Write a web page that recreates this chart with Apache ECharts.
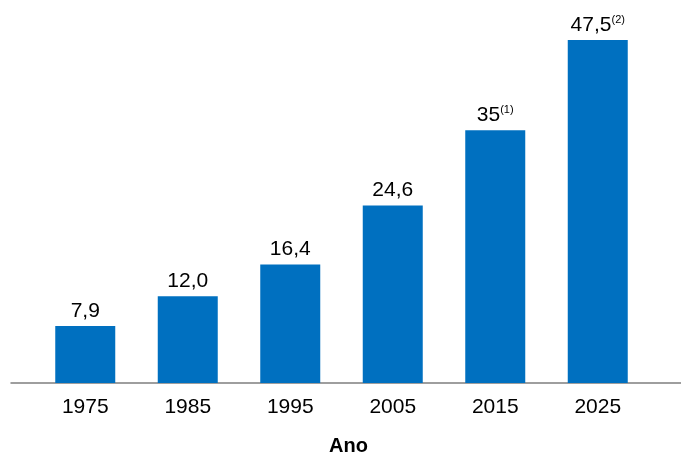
<!DOCTYPE html>
<html>
<head>
<meta charset="utf-8">
<script src="https://cdn.jsdelivr.net/npm/echarts@6/dist/echarts.min.js"></script>
<style>html,body{margin:0;padding:0;background:#fff;}#c{width:681px;height:454px;}</style>
</head>
<body>
<div id="c"></div>
<script>
var categories = ['1975', '1985', '1995', '2005', '2015', '2025'];
var values = [7.9, 12.0, 16.4, 24.6, 35, 47.5];
var valueLabels = ['7,9', '12,0', '16,4', '24,6', '35', '47,5'];
var notes = ['', '', '', '', '(1)', '(2)'];
var axisTitle = 'Ano';

var chart = echarts.init(document.getElementById('c'), null, {renderer: 'canvas'});
var font = 'Liberation Sans, Arial, Helvetica, sans-serif';
chart.setOption({
  animation: false,
  backgroundColor: '#ffffff',
  grid: [
    {left: 34, right: 32, top: 22, bottom: 71},
    {left: 11, right: 0, top: 22, bottom: 71}
  ],
  xAxis: [
    {
      type: 'category', gridIndex: 0, data: categories,
      axisLine: {show: false}, axisTick: {show: false},
      axisLabel: {color: '#000', fontSize: 21, fontFamily: font, margin: 14}
    },
    {
      type: 'category', gridIndex: 1, data: [''],
      axisLine: {show: true, lineStyle: {color: '#7f7f7f', width: 1.5}},
      axisTick: {show: false}, axisLabel: {show: false}
    }
  ],
  yAxis: [
    {type: 'value', gridIndex: 0, min: 0, max: 50, show: false, splitLine: {show: false}},
    {type: 'value', gridIndex: 1, min: 0, max: 50, show: false, splitLine: {show: false}}
  ],
  series: [{
    type: 'bar',
    xAxisIndex: 0, yAxisIndex: 0,
    data: values,
    barWidth: 60,
    itemStyle: {color: '#0070C0'},
    label: {
      show: true,
      position: 'top',
      distance: 4,
      formatter: function (p) {
        var n = notes[p.dataIndex];
        return '{v|' + valueLabels[p.dataIndex] + '}' + (n ? '{s|' + n + '}' : '');
      },
      rich: {
        v: {fontSize: 21, fontFamily: font, color: '#000', lineHeight: 22},
        s: {fontSize: 11, fontFamily: font, color: '#000', verticalAlign: 'top', padding: [0, 0, 10, 0]}
      }
    }
  }],
  graphic: [{
    type: 'text',
    left: 329,
    top: 436,
    style: {text: axisTitle, font: 'bold 20px ' + font, fill: '#000'}
  }]
});
</script>
</body>
</html>
